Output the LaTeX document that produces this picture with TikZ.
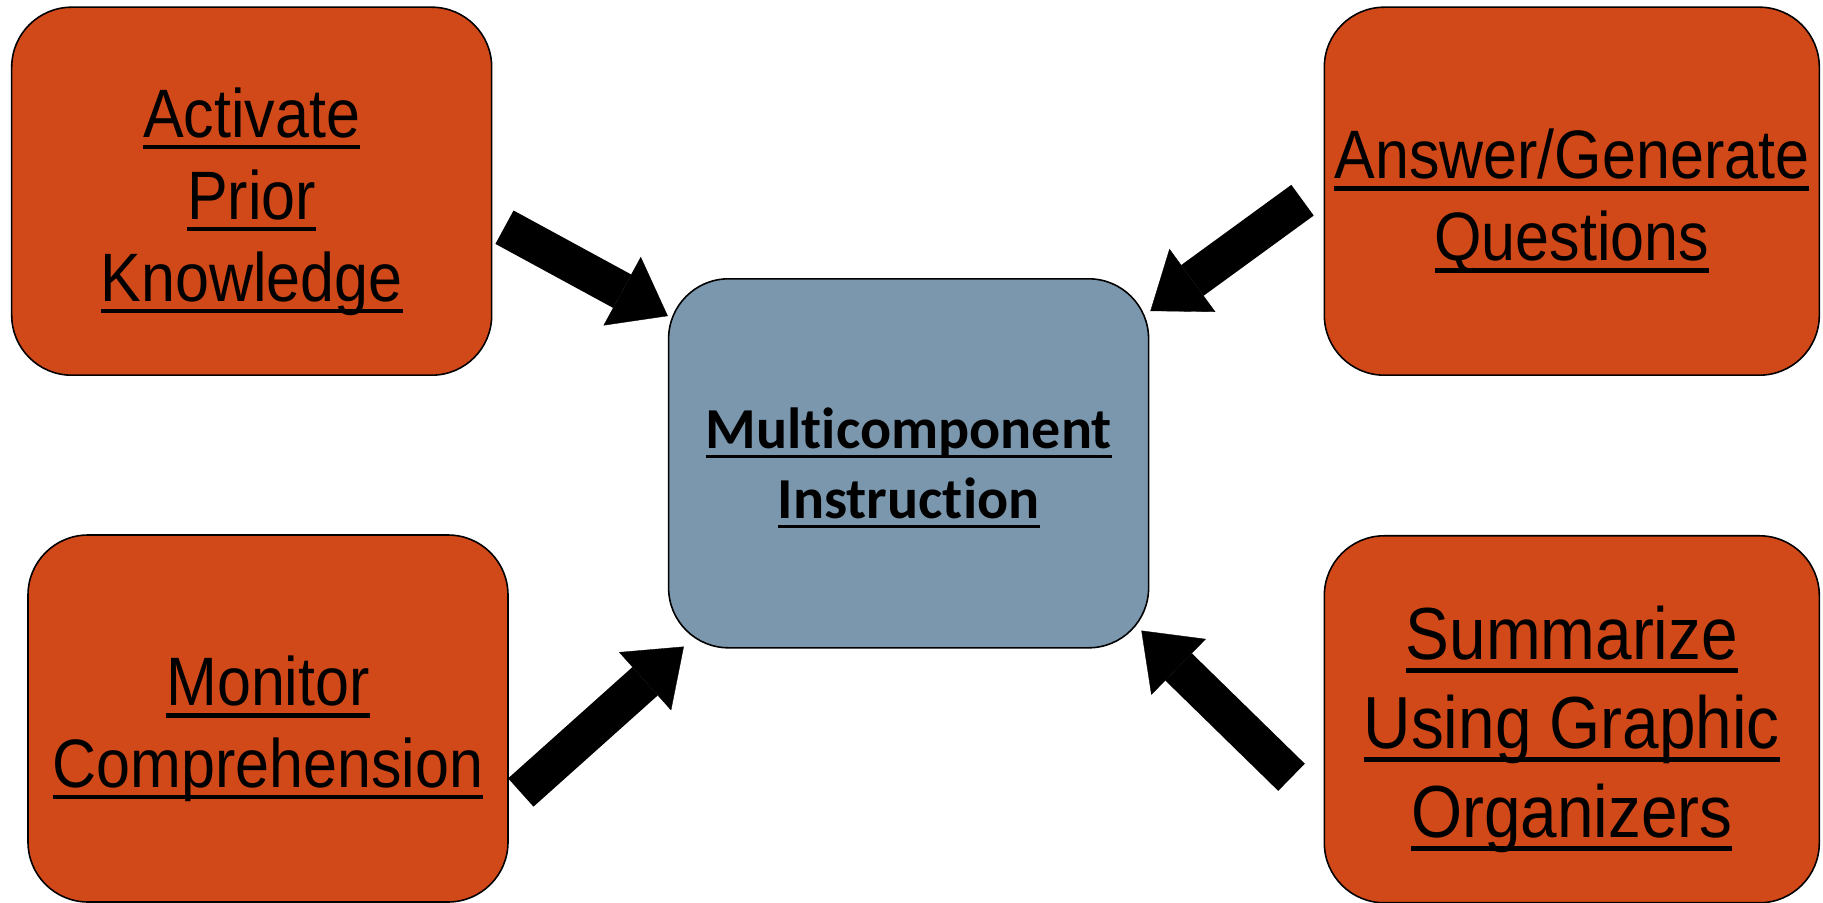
\documentclass[tikz,border=0pt]{standalone}
\usepackage{fontspec}
\usepackage{xcolor}
\usetikzlibrary{arrows.meta,positioning}

\newfontfamily\narrowsf[FakeStretch=0.89]{Liberation Sans}
\newfontfamily\hubsf[Ligatures=NoCommon]{Carlito}
\definecolor{rust}{RGB}{209,73,24}
\definecolor{slate}{RGB}{123,151,173}
\newcommand{\ulword}[1]{\sbox0{#1}\rlap{\rule[-0.175em]{\wd0}{0.065em}}\usebox0}
\newcommand{\lift}[1]{\rule{0pt}{#1}}

\begin{document}
\begin{tikzpicture}[
    x=0.1mm, y=-0.1mm,
    topic/.style={rectangle, draw=black, fill=rust, line width=0.45pt, rounded corners=6mm, minimum width=48mm, minimum height=36.8mm, inner sep=0pt, align=center, font=\narrowsf\fontsize{19.5pt}{23.3pt}\selectfont},
    hub/.style={rectangle, draw=black, fill=slate, line width=0.45pt, rounded corners=6mm, minimum width=48mm, minimum height=36.9mm, inner sep=0pt, align=center, font=\hubsf\bfseries\fontsize{16.5pt}{19.9pt}\selectfont},
    bigarrow/.style={line width=3.8mm, -{Triangle[length=5.2mm, width=7.8mm, line width=0.1pt]}}
]
    \useasboundingbox (0,0) rectangle (1823,903);

    \node[hub] (mc) at (908.6,463.3) {\lift{14.2pt}\ulword{Multicomponent}\\\ulword{Instruction}};
    \node[topic] (act) at (251.7,191.2) {\lift{20pt}\ulword{Activate}\\\ulword{Prior}\\\ulword{Knowledge}};
    \node[topic, minimum width=49.5mm] (ans) at (1571.8,191.2) {\lift{20pt}\ulword{Answer/Generate}\\\ulword{Questions}};
    \node[topic, minimum height=36.7mm] (mon) at (268,718.5) {\lift{20pt}\ulword{Monitor}\\\ulword{Comprehension}};
    \node[topic, minimum width=49.5mm, minimum height=36.7mm, below=15.9mm of ans, font=\narrowsf\fontsize{21pt}{25.3pt}\selectfont] (sum) {\lift{21.2pt}\ulword{Summarize}\\\ulword{Using Graphic}\\\ulword{Organizers}};

    \draw[bigarrow] ([shift={(12,36)}]act.east) -- ([shift={(0,38)}]mc.north west);
    \draw[bigarrow] ([shift={(-21,9)}]ans.west) -- ([shift={(1,33)}]mc.north east);
    \draw[bigarrow] ([shift={(12,74)}]mon.east) -- ([shift={(16,-2)}]mc.south west);
    \draw[bigarrow] ([shift={(-32,58)}]sum.west) -- ([shift={(-8,-18)}]mc.south east);
\end{tikzpicture}
\end{document}
